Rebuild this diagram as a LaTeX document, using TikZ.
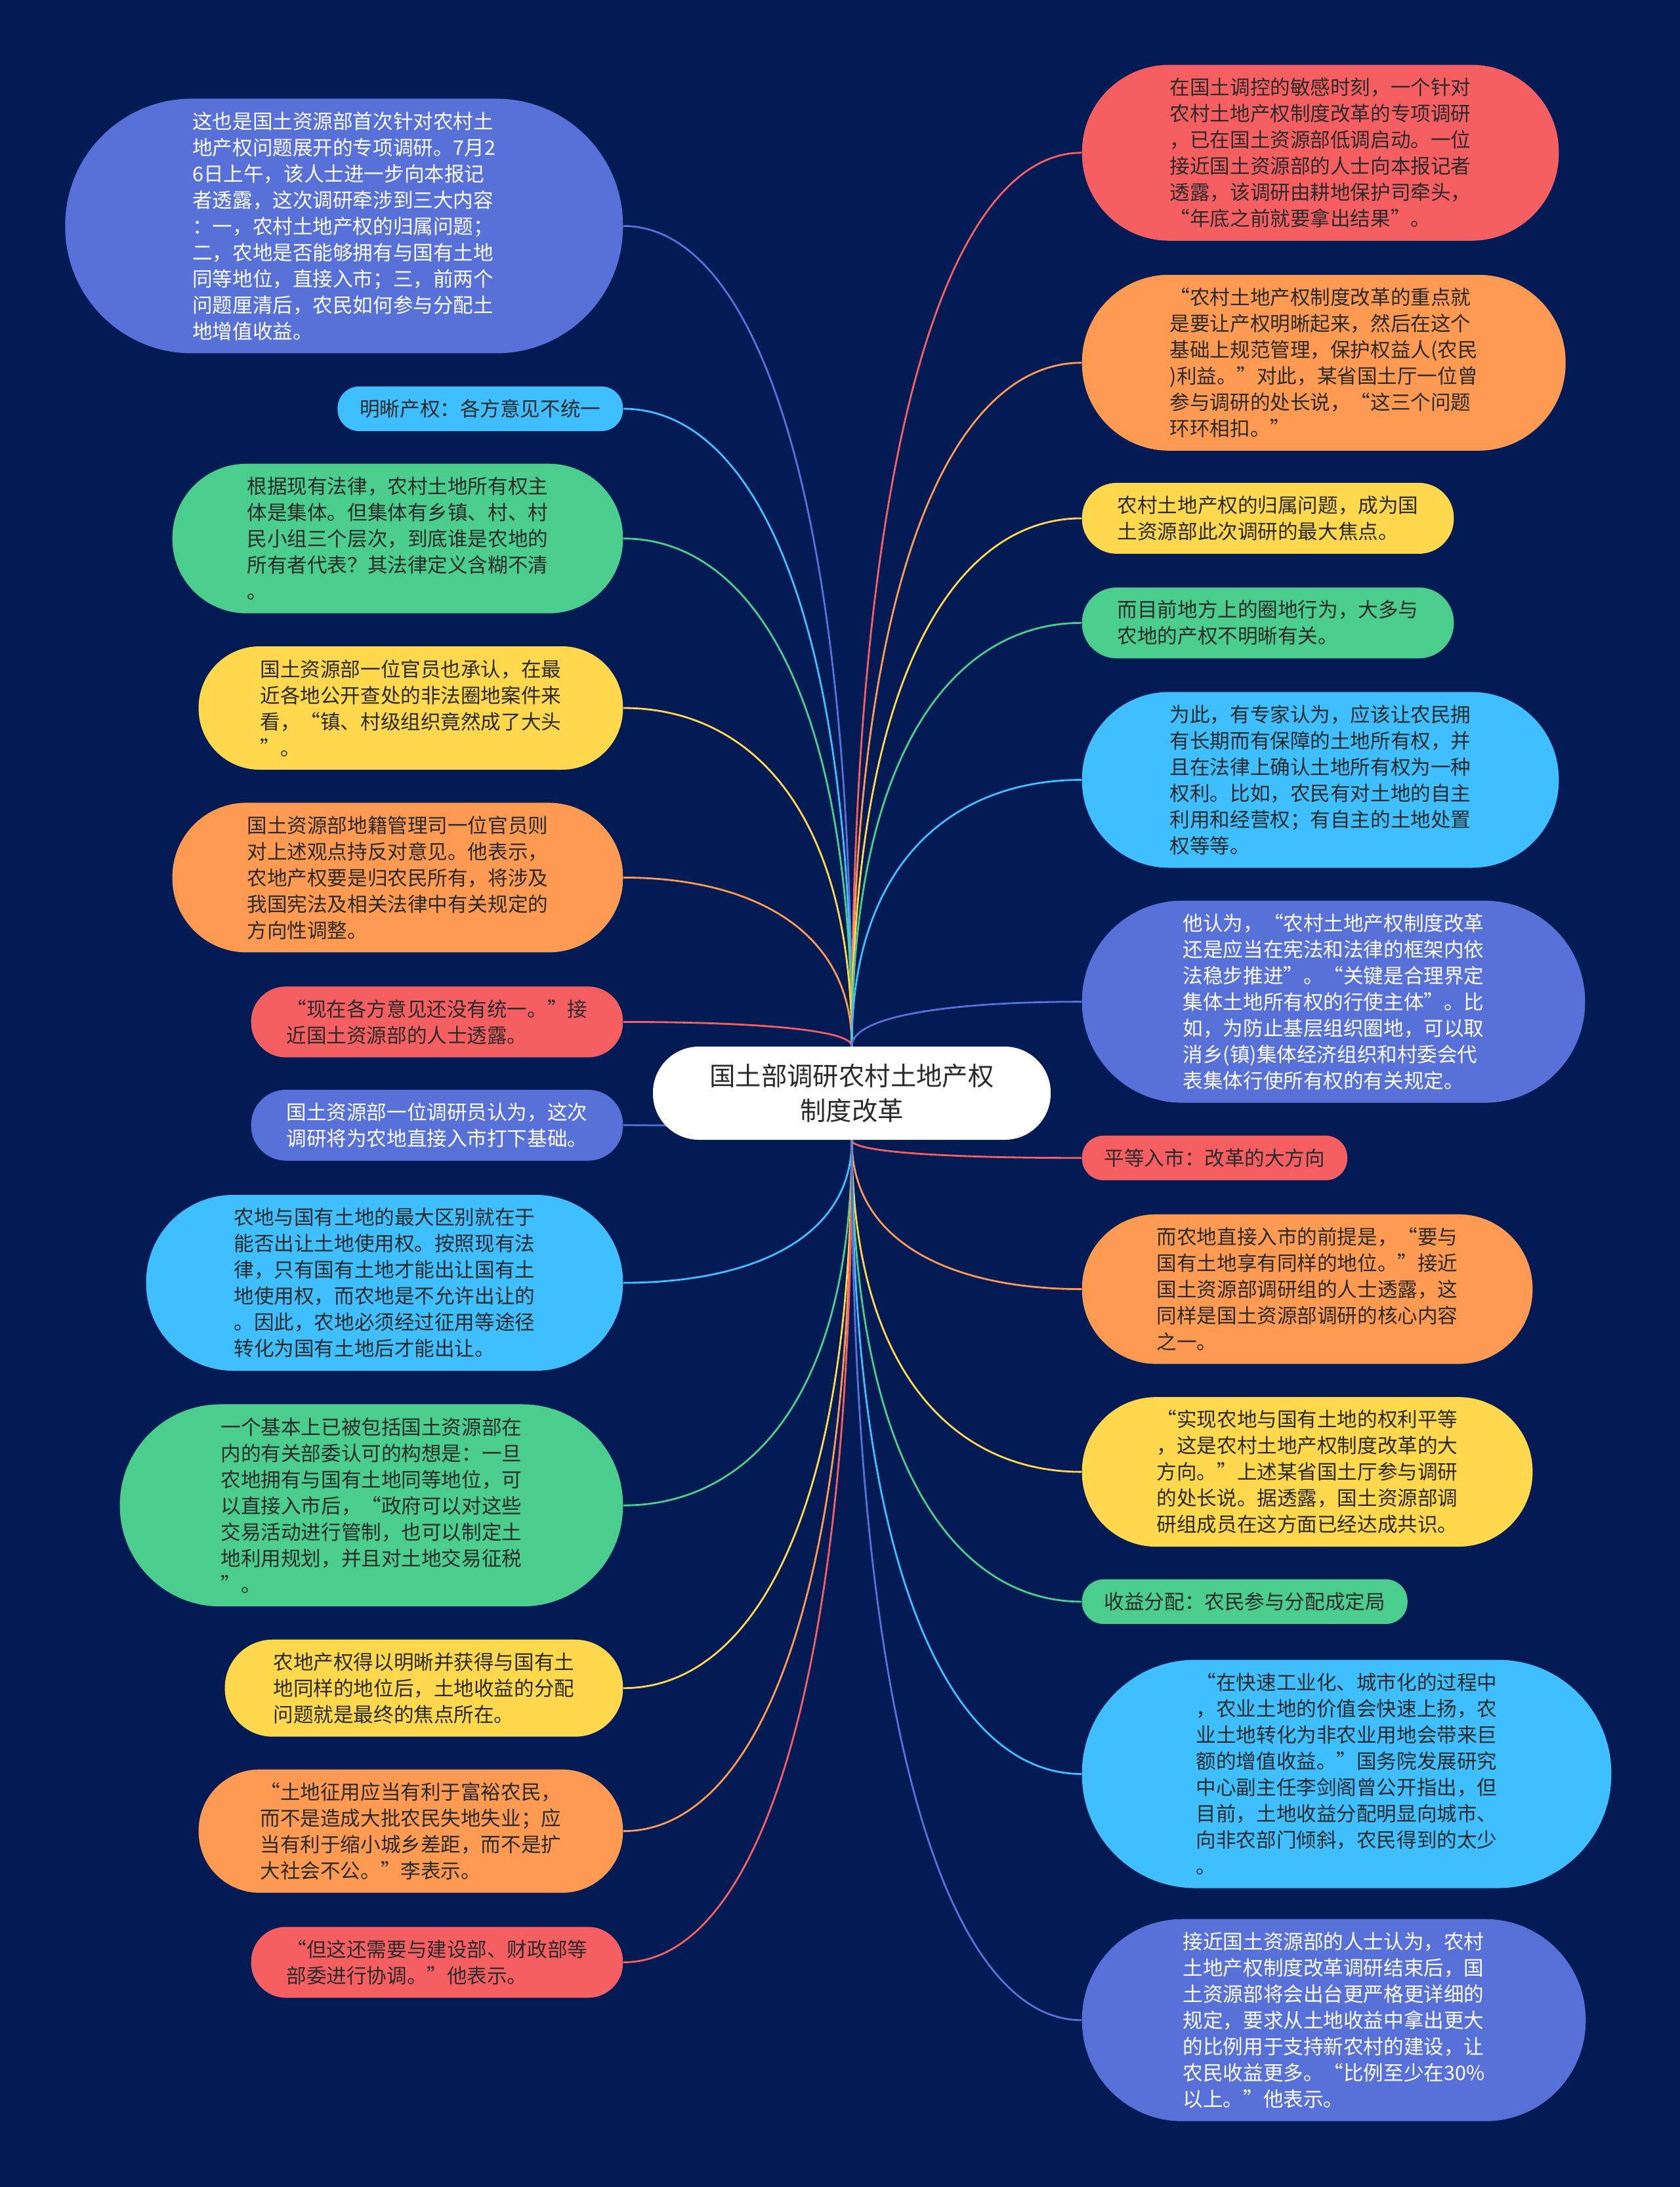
\documentclass[tikz,border=0pt]{standalone}
\usepackage{fontspec}
\setmainfont{Noto Sans CJK SC}
\usepackage{tikz}
\usetikzlibrary{calc,backgrounds}
\definecolor{mmnavy}{HTML}{021B55}
\definecolor{mmblue}{HTML}{5871D8}
\definecolor{mmcyan}{HTML}{3FBFFF}
\definecolor{mmgreen}{HTML}{4BCE8D}
\definecolor{mmyellow}{HTML}{FFD84D}
\definecolor{mmorange}{HTML}{FF9A53}
\definecolor{mmred}{HTML}{F55F62}
\definecolor{mmtext}{HTML}{2A2A2A}
\newcommand\leaffont{\fontsize{8.7pt}{11.38pt}\selectfont}
\newcommand\rootfont{\fontsize{11.2pt}{15pt}\selectfont}
\tikzset{%
  leaf/.style   = {shape=rectangle, inner ysep=2pt,%
                   align=left, text=mmtext, font=\leaffont},%
  nlines/.style = {minimum height={#1*0.4cm+0.28cm},%
                   inner xsep={#1*0.2cm+0.14cm}, rounded corners={#1*0.2cm+0.13cm}},%
  lnode/.style  = {leaf, anchor=east},%
  rnode/.style  = {leaf, anchor=west},%
  root/.style   = {shape=rectangle, rounded corners=0.7cm, fill=white, align=center,%
                   text=mmtext, font=\rootfont,%
                   minimum width=6.06cm, minimum height=1.42cm},%
  branch/.style = {line width=0.8pt}%
}
\begin{document}
\begin{tikzpicture}
	\useasboundingbox (0,0) rectangle (25.6,-33.33);
	\node[root] (root) at (12.98,-16.66) {国土部调研农村土地产权\\制度改革};
	% left side
	\node[lnode, fill=mmblue, text=white, nlines=9] (l1) at (9.50,-3.444) {这也是国土资源部首次针对农村土\\地产权问题展开的专项调研。7月2\\6日上午，该人士进一步向本报记\\者透露，这次调研牵涉到三大内容\\：一，农村土地产权的归属问题；\\二，农地是否能够拥有与国有土地\\同等地位，直接入市；三，前两个\\问题厘清后，农民如何参与分配土\\地增值收益。};
	\node[lnode, fill=mmcyan, nlines=1] (l2) at (9.50,-6.230) {明晰产权：各方意见不统一};
	\node[lnode, fill=mmgreen, nlines=5] (l3) at (9.50,-8.207) {根据现有法律，农村土地所有权主\\体是集体。但集体有乡镇、村、村\\民小组三个层次，到底谁是农地的\\所有者代表？其法律定义含糊不清\\。};
	\node[lnode, fill=mmyellow, nlines=4] (l4) at (9.50,-10.790) {国土资源部一位官员也承认，在最\\近各地公开查处的非法圈地案件来\\看，“镇、村级组织竟然成了大头\\”。};
	\node[lnode, fill=mmorange, nlines=5] (l5) at (9.50,-13.374) {国土资源部地籍管理司一位官员则\\对上述观点持反对意见。他表示，\\农地产权要是归农民所有，将涉及\\我国宪法及相关法律中有关规定的\\方向性调整。};
	\node[lnode, fill=mmred, nlines=2] (l6) at (9.50,-15.574) {“现在各方意见还没有统一。”接\\近国土资源部的人士透露。};
	\node[lnode, fill=mmblue, text=white, nlines=2] (l7) at (9.50,-17.148) {国土资源部一位调研员认为，这次\\调研将为农地直接入市打下基础。};
	\node[lnode, fill=mmcyan, nlines=6] (l8) at (9.50,-19.550) {农地与国有土地的最大区别就在于\\能否出让土地使用权。按照现有法\\律，只有国有土地才能出让国有土\\地使用权，而农地是不允许出让的\\。因此，农地必须经过征用等途径\\转化为国有土地后才能出让。};
	\node[lnode, fill=mmgreen, nlines=7] (l9) at (9.50,-22.942) {一个基本上已被包括国土资源部在\\内的有关部委认可的构想是：一旦\\农地拥有与国有土地同等地位，可\\以直接入市后，“政府可以对这些\\交易活动进行管制，也可以制定土\\地利用规划，并且对土地交易征税\\”。};
	\node[lnode, fill=mmyellow, nlines=3] (l10) at (9.50,-25.727) {农地产权得以明晰并获得与国有土\\地同样的地位后，土地收益的分配\\问题就是最终的焦点所在。};
	\node[lnode, fill=mmorange, nlines=4] (l11) at (9.50,-27.906) {“土地征用应当有利于富裕农民，\\而不是造成大批农民失地失业；应\\当有利于缩小城乡差距，而不是扩\\大社会不公。”李表示。};
	\node[lnode, fill=mmred, nlines=2] (l12) at (9.50,-29.905) {“但这还需要与建设部、财政部等\\部委进行协调。”他表示。};
	% right side
	\node[rnode, fill=mmred, nlines=6] (r1) at (16.48,-2.328) {在国土调控的敏感时刻，一个针对\\农村土地产权制度改革的专项调研\\，已在国土资源部低调启动。一位\\接近国土资源部的人士向本报记者\\透露，该调研由耕地保护司牵头，\\“年底之前就要拿出结果”。};
	\node[rnode, fill=mmorange, nlines=6] (r2) at (16.48,-5.528) {“农村土地产权制度改革的重点就\\是要让产权明晰起来，然后在这个\\基础上规范管理，保护权益人(农民\\)利益。”对此，某省国土厅一位曾\\参与调研的处长说，“这三个问题\\环环相扣。”};
	\node[rnode, fill=mmyellow, nlines=2] (r3) at (16.48,-7.899) {农村土地产权的归属问题，成为国\\土资源部此次调研的最大焦点。};
	\node[rnode, fill=mmgreen, nlines=2] (r4) at (16.48,-9.493) {而目前地方上的圈地行为，大多与\\农地的产权不明晰有关。};
	\node[rnode, fill=mmcyan, nlines=6] (r5) at (16.48,-11.885) {为此，有专家认为，应该让农民拥\\有长期而有保障的土地所有权，并\\且在法律上确认土地所有权为一种\\权利。比如，农民有对土地的自主\\利用和经营权；有自主的土地处置\\权等等。};
	\node[rnode, fill=mmblue, text=white, nlines=7] (r6) at (16.48,-15.266) {他认为，“农村土地产权制度改革\\还是应当在宪法和法律的框架内依\\法稳步推进”。“关键是合理界定\\集体土地所有权的行使主体”。比\\如，为防止基层组织圈地，可以取\\消乡(镇)集体经济组织和村委会代\\表集体行使所有权的有关规定。};
	\node[rnode, fill=mmred, nlines=1] (r7) at (16.48,-17.647) {平等入市：改革的大方向};
	\node[rnode, fill=mmorange, nlines=5] (r8) at (16.48,-19.646) {而农地直接入市的前提是，“要与\\国有土地享有同样的地位。”接近\\国土资源部调研组的人士透露，这\\同样是国土资源部调研的核心内容\\之一。};
	\node[rnode, fill=mmyellow, nlines=5] (r9) at (16.48,-22.431) {“实现农地与国有土地的权利平等\\，这是农村土地产权制度改革的大\\方向。”上述某省国土厅参与调研\\的处长说。据透露，国土资源部调\\研组成员在这方面已经达成共识。};
	\node[rnode, fill=mmgreen, nlines=1] (r10) at (16.48,-24.409) {收益分配：农民参与分配成定局};
	\node[rnode, fill=mmcyan, nlines=8] (r11) at (16.48,-27.035) {“在快速工业化、城市化的过程中\\，农业土地的价值会快速上扬，农\\业土地转化为非农业用地会带来巨\\额的增值收益。”国务院发展研究\\中心副主任李剑阁曾公开指出，但\\目前，土地收益分配明显向城市、\\向非农部门倾斜，农民得到的太少\\。};
	\node[rnode, fill=mmblue, text=white, nlines=7] (r12) at (16.48,-30.787) {接近国土资源部的人士认为，农村\\土地产权制度改革调研结束后，国\\土资源部将会出台更严格更详细的\\规定，要求从土地收益中拿出更大\\的比例用于支持新农村的建设，让\\农民收益更多。“比例至少在30\%\\以上。”他表示。};
	% background and branches
	\begin{scope}[on background layer]
		\fill[mmnavy] (0,0) rectangle (25.6,-33.33);
		\foreach \n/\col/\s/\e in {l1/mmblue/north/east, l2/mmcyan/north/east,%
				l3/mmgreen/north/east, l4/mmyellow/north/east, l5/mmorange/north/east,%
				l6/mmred/north/east, l7/mmblue/south/east, l8/mmcyan/south/east,%
				l9/mmgreen/south/east, l10/mmyellow/south/east, l11/mmorange/south/east,%
				l12/mmred/south/east, r1/mmred/north/west, r2/mmorange/north/west,%
				r3/mmyellow/north/west, r4/mmgreen/north/west, r5/mmcyan/north/west,%
				r6/mmblue/north/west, r7/mmred/south/west, r8/mmorange/south/west,%
				r9/mmyellow/south/west, r10/mmgreen/south/west, r11/mmcyan/south/west,%
				r12/mmblue/south/west}{
			\coordinate (a) at (root.\s);
			\coordinate (b) at (\n.\e);
			\draw[branch, draw=\col] (a) .. controls ($(a)!0.7!(a|-b)$) and ($(b)!0.55!(a|-b)$) .. (b);
		}
	\end{scope}
\end{tikzpicture}
\end{document}
